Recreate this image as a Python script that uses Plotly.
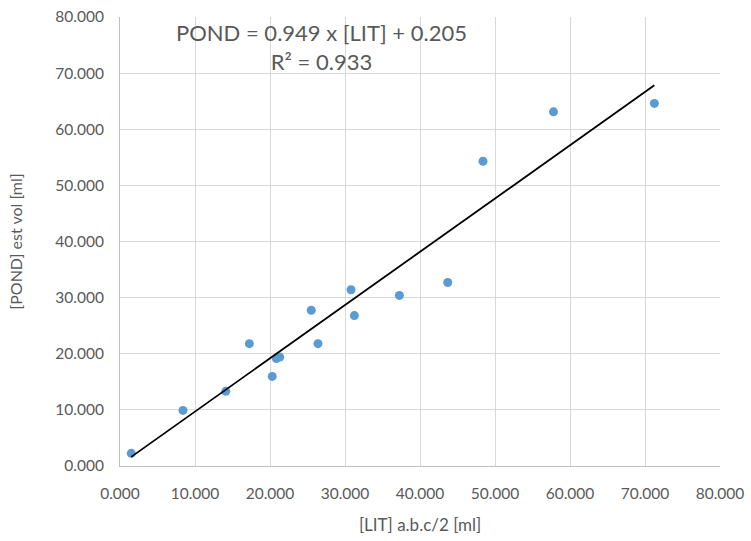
import plotly.graph_objects as go

lit = [1.5, 8.4, 14.1, 17.25, 20.3, 20.85, 21.3, 25.5, 26.4, 30.8, 31.25, 37.25, 43.7, 48.4, 57.8, 71.25]
pond = [2.26, 9.9, 13.3, 21.8, 15.96, 19.16, 19.4, 27.75, 21.8, 31.4, 26.8, 30.4, 32.7, 54.3, 63.1, 64.6]
slope = 0.949
intercept = 0.205
r2 = 0.933
ticks = [0, 10, 20, 30, 40, 50, 60, 70, 80]
tick_labels = ["0.000", "10.000", "20.000", "30.000", "40.000", "50.000", "60.000", "70.000", "80.000"]

font_family = "Lato, 'Open Sans', sans-serif"
txt_color = "#595959"

xs_line = [min(lit), max(lit)]
ys_line = [slope * x + intercept for x in xs_line]

fig = go.Figure()
fig.add_trace(go.Scatter(x=lit, y=pond, mode="markers",
                         marker=dict(color="#5b9bd5", size=9, line=dict(width=0)),
                         showlegend=False))
fig.add_trace(go.Scatter(x=xs_line, y=ys_line, mode="lines",
                         line=dict(color="black", width=1.8), showlegend=False))

fig.add_annotation(x=0.335, y=1.0, xref="paper", yref="paper", xanchor="center", yanchor="top",
                   text=f"POND = {slope:.3f} x [LIT] + {intercept:.3f}<br>R² = {r2:.3f}",
                   showarrow=False, font=dict(family=font_family, size=22, color=txt_color),
                   align="center")

fig.update_layout(
    width=751, height=541,
    margin=dict(l=120, r=31, t=17, b=75, autoexpand=False),
    paper_bgcolor="white", plot_bgcolor="white",
    font=dict(family=font_family, size=15.5, color=txt_color),
    xaxis=dict(range=[0, 80], tickvals=ticks, ticktext=tick_labels,
               showgrid=True, gridcolor="#d9d9d9", gridwidth=1,
               showline=True, linecolor="#bfbfbf", linewidth=1,
               zeroline=False, ticks="", ticklabelstandoff=13, automargin=False,
               title=dict(text="[LIT] a.b.c/2 [ml]", font=dict(size=17, color=txt_color), standoff=18)),
    yaxis=dict(range=[0, 80], tickvals=ticks, ticktext=tick_labels,
               showgrid=True, gridcolor="#d9d9d9", gridwidth=1,
               showline=True, linecolor="#bfbfbf", linewidth=1,
               zeroline=False, ticks="", ticklabelstandoff=12, automargin=False,
               title=dict(text="[POND] est vol [ml]", font=dict(size=16, color=txt_color), standoff=28)),
)

fig.write_html("out.html")
